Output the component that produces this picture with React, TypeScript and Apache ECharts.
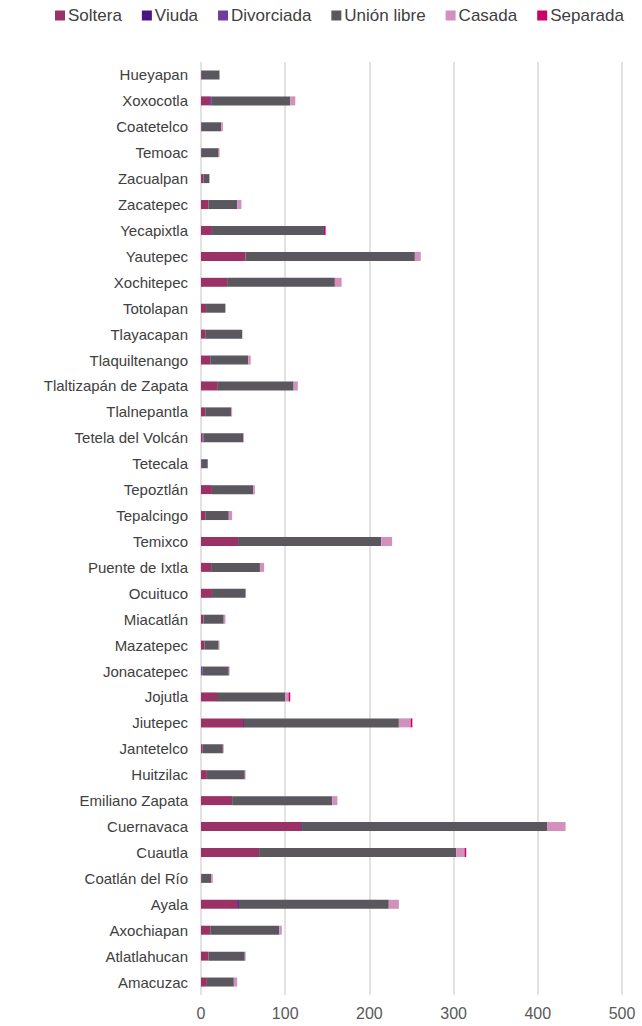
import React, { useEffect, useRef } from "react";
import * as echarts from "echarts";

const categories = [
  "Hueyapan", "Xoxocotla", "Coatetelco", "Temoac", "Zacualpan", "Zacatepec",
  "Yecapixtla", "Yautepec", "Xochitepec", "Totolapan", "Tlayacapan", "Tlaquiltenango",
  "Tlaltizapán de Zapata", "Tlalnepantla", "Tetela del Volcán", "Tetecala", "Tepoztlán",
  "Tepalcingo", "Temixco", "Puente de Ixtla", "Ocuituco", "Miacatlán", "Mazatepec",
  "Jonacatepec", "Jojutla", "Jiutepec", "Jantetelco", "Huitzilac", "Emiliano Zapata",
  "Cuernavaca", "Cuautla", "Coatlán del Río", "Ayala", "Axochiapan", "Atlatlahucan", "Amacuzac",
];

const soltera = [1, 11, 1, 1, 3, 9, 13, 53, 31, 6, 5, 11, 20, 5, 2, 1, 13, 5, 44, 12, 13, 3, 4, 0, 19, 50, 2, 7, 37, 119, 69, 1, 43, 11, 9, 7];
const viuda = [0, 1, 0, 0, 0, 0, 0, 0, 0, 0, 0, 0, 0, 0, 0, 0, 0, 0, 0, 0, 0, 0, 0, 0, 0, 1, 0, 0, 0, 1, 0, 0, 2, 0, 0, 0];
const divorciada = [0, 1, 0, 0, 0, 0, 0, 0, 0, 0, 0, 0, 0, 0, 1, 0, 0, 0, 0, 0, 0, 0, 0, 2, 0, 0, 0, 0, 0, 0, 0, 0, 0, 0, 0, 0];
const unionLibre = [21, 93, 23, 20, 7, 34, 133, 201, 128, 23, 44, 45, 90, 31, 47, 7, 49, 28, 170, 58, 40, 24, 17, 31, 81, 184, 24, 45, 119, 291, 234, 11, 178, 82, 43, 32];
const casada = [0, 6, 2, 1, 0, 5, 0, 7, 8, 0, 0, 3, 5, 1, 1, 0, 2, 4, 13, 5, 0, 2, 1, 1, 4, 14, 1, 1, 6, 22, 10, 2, 12, 3, 1, 4];
const separada = [0, 0, 0, 0, 0, 0, 2, 0, 0, 0, 0, 0, 0, 0, 0, 0, 0, 0, 0, 0, 0, 0, 0, 0, 2, 2, 0, 0, 0, 0, 2, 0, 0, 0, 0, 0];

const seriesNames = ["Soltera", "Viuda", "Divorciada", "Unión libre", "Casada", "Separada"];
const seriesData = [soltera, viuda, divorciada, unionLibre, casada, separada];
const seriesColors = ["#9b3266", "#4b1682", "#6d3e99", "#5a585e", "#d291bc", "#cc0066"];

export default function App() {
  const ref = useRef<HTMLDivElement>(null);
  useEffect(() => {
    if (!ref.current) return;
    const chart = echarts.init(ref.current, null, { renderer: "svg" });
    chart.setOption({
      animation: false,
      textStyle: { fontFamily: "Liberation Sans, Arial, sans-serif" },
      legend: {
        top: 2,
        left: 50,
        itemWidth: 10,
        itemHeight: 10,
        itemGap: 20,
        icon: "rect",
        textStyle: { fontSize: 17, color: "#404040", padding: [0, 0, 0, -2] },
        data: seriesNames,
      },
      grid: { left: 201, right: 20, top: 62, bottom: 31, containLabel: false },
      xAxis: {
        type: "value",
        min: 0,
        max: 500,
        interval: 100,
        axisLine: { show: false },
        axisTick: { show: false },
        axisLabel: { fontSize: 16, color: "#595959", margin: 10 },
        splitLine: { lineStyle: { color: "#d9d9d9", width: 1.5 } },
      },
      yAxis: {
        type: "category",
        inverse: true,
        data: categories,
        axisLine: { show: false },
        axisTick: { show: false },
        axisLabel: { fontSize: 15, color: "#404040", margin: 13 },
      },
      series: seriesNames.map((name, i) => ({
        name,
        type: "bar",
        stack: "total",
        barWidth: 9,
        data: seriesData[i],
        itemStyle: { color: seriesColors[i] },
      })),
    });
    return () => chart.dispose();
  }, []);
  return (
    <div
      ref={ref}
      style={{ position: "absolute", left: 0, top: 0, width: 642, height: 1026 }}
    />
  );
}
